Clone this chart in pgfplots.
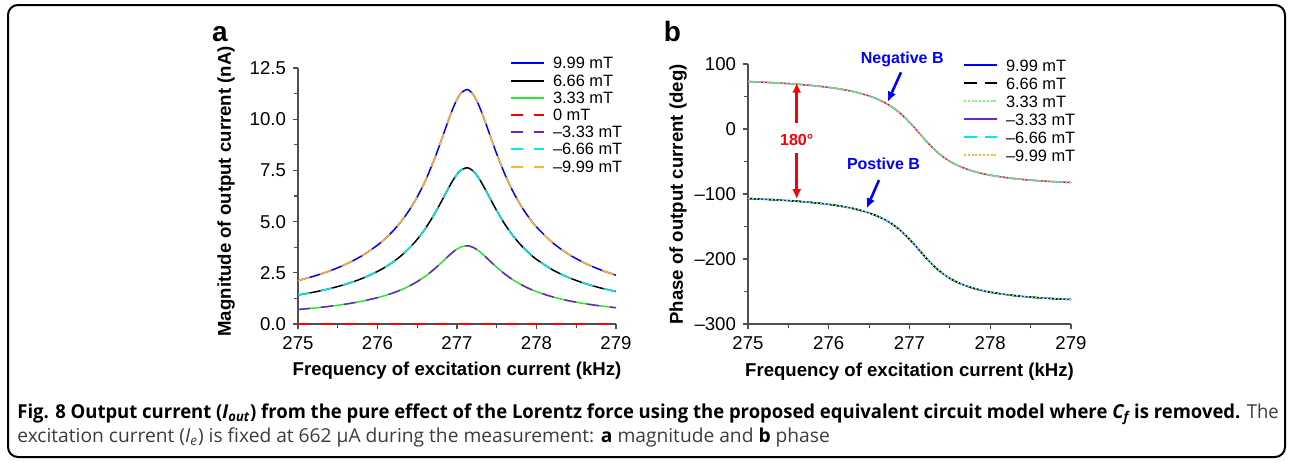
\documentclass[border=0pt]{standalone}
\usepackage{fontspec}
\setmainfont{Liberation Sans}
\newfontfamily\capfont{Open Sans}
\usepackage{graphicx}
\usepackage{pgfplots}
\pgfplotsset{compat=1.18}
\usepackage{pgfplotstable}
\usetikzlibrary{arrows.meta}

\definecolor{cblue}{RGB}{0,0,255}
\definecolor{cgreen}{RGB}{40,230,40}
\definecolor{cgreenl}{RGB}{110,255,110}
\definecolor{cred}{RGB}{255,0,0}
\definecolor{cpurple}{RGB}{120,30,210}
\definecolor{ccyan}{RGB}{0,235,235}
\definecolor{corange}{RGB}{255,180,40}
\definecolor{axgray}{RGB}{80,80,80}
\definecolor{capgray}{RGB}{60,60,60}

\pgfplotstableread{
f m999 m666 m333
275.0 2.123 1.415 0.708
275.2 2.335 1.556 0.779
275.4 2.594 1.728 0.865
275.6 2.914 1.942 0.972
275.8 3.321 2.213 1.108
276.0 3.851 2.566 1.285
276.1 4.180 2.786 1.395
276.2 4.565 3.042 1.523
276.3 5.020 3.345 1.675
276.4 5.561 3.705 1.855
276.5 6.207 4.136 2.071
276.6 6.981 4.652 2.329
276.7 7.897 5.262 2.634
276.75 8.405 5.601 2.804
276.8 8.941 5.958 2.983
276.85 9.490 6.324 3.166
276.9 10.033 6.686 3.347
276.95 10.538 7.022 3.516
277.0 10.967 7.308 3.659
277.05 11.279 7.516 3.763
277.12 11.450 7.630 3.820
277.15 11.418 7.609 3.809
277.2 11.228 7.482 3.746
277.25 10.889 7.256 3.633
277.3 10.441 6.958 3.484
277.35 9.926 6.614 3.312
277.4 9.380 6.251 3.129
277.45 8.832 5.886 2.947
277.5 8.301 5.532 2.770
277.6 7.330 4.885 2.446
277.7 6.500 4.332 2.169
277.8 5.805 3.869 1.937
277.9 5.225 3.482 1.743
278.0 4.738 3.157 1.581
278.2 3.977 2.650 1.327
278.4 3.415 2.276 1.139
278.6 2.987 1.991 0.997
278.8 2.652 1.767 0.885
279.0 2.383 1.588 0.795
}\magtab

\pgfplotstableread{
f m0
275.0 0
279.0 0
}\zerotab

\pgfplotstableread{
f neg pos
275.0 73.02 -106.98
275.2 71.93 -108.07
275.4 70.61 -109.39
275.6 68.96 -111.04
275.8 66.84 -113.16
276.0 64.05 -115.95
276.1 62.29 -117.71
276.2 60.20 -119.80
276.3 57.70 -122.30
276.4 54.65 -125.35
276.5 50.87 -129.13
276.6 46.13 -133.87
276.7 40.10 -139.90
276.75 36.47 -143.53
276.8 32.36 -147.64
276.85 27.72 -152.28
276.9 22.51 -157.49
276.95 16.73 -163.27
277.0 10.40 -169.60
277.05 3.63 -176.37
277.12 -6.30 -186.30
277.15 -10.59 -190.59
277.2 -17.61 -197.61
277.25 -24.30 -204.30
277.3 -30.53 -210.53
277.35 -36.20 -216.20
277.4 -41.29 -221.29
277.45 -45.82 -225.82
277.5 -49.83 -229.83
277.6 -56.30 -236.30
277.7 -61.30 -241.30
277.8 -65.30 -245.30
277.9 -68.50 -248.50
278.0 -71.00 -251.00
278.2 -74.80 -254.80
278.4 -77.60 -257.60
278.6 -79.60 -259.60
278.8 -81.10 -261.10
279.0 -82.30 -262.30
}\phasetab

\pgfplotsset{
  common/.style={
    scale only axis, clip=false,
    axis lines=left,
    axis line style={axgray, line width=0.6pt, -},
    tick align=outside,
    major tick length=2.5pt, minor tick length=2pt,
    tick style={axgray, line width=0.6pt},
    xmin=275, xmax=279,
    xtick={275,276,277,278,279},
    xticklabels={275,276,277,278,279},
    minor x tick num=1, minor y tick num=1,
    tick label style={font=\fontsize{9.3}{11}\selectfont},
    label style={font=\bfseries\fontsize{9.3}{11}\selectfont},
    legend cell align=left,
    legend style={draw=none, fill=none, inner sep=0pt, outer sep=0pt,
      column sep=3pt, row sep=0pt,
      font=\fontsize{8.2}{9}\selectfont,
      nodes={inner sep=1pt, text depth=0.5pt}},
    legend image code/.code={\draw[#1, line width=1pt] (0pt,0pt) -- (16.5pt,0pt);},
  },
  dsh/.style={dash pattern=on 6pt off 5.5pt},
  dshb/.style={dash pattern=on 6.3pt off 4pt},
  dtt/.style={dash pattern=on 1pt off 0.9pt},
}

\begin{document}
\begin{tikzpicture}
\useasboundingbox (0,0) rectangle (645pt,-231pt);
\draw[line width=1pt, rounded corners=5pt] (4pt,-2.5pt) rectangle (642.5pt,-228.5pt);

\node[font=\bfseries\fontsize{14}{16}\selectfont, anchor=base] at (110pt,-20.5pt) {a};
\node[font=\bfseries\fontsize{14}{16}\selectfont, anchor=base] at (336.25pt,-20.5pt) {b};

% ---------- caption ----------
\node[anchor=base west, inner sep=0pt, xscale=0.963, font=\capfont\fontsize{9.6}{12}\selectfont] at (8.5pt,-209.25pt)
  {\textbf{Fig. 8 Output current (\textit{I\textsubscript{out}}) from the pure effect of the Lorentz force using the proposed equivalent circuit model where \textit{C\textsubscript{f}} is removed.} \textcolor{capgray}{The}};
\node[anchor=base west, inner sep=0pt, xscale=1.0, text=capgray, font=\capfont\fontsize{9.6}{12}\selectfont] at (8.5pt,-221.25pt)
  {excitation current (\textit{I\textsubscript{e}}) is fixed at 662 µA during the measurement: \textcolor{black}{\textbf{a}} magnitude and \textcolor{black}{\textbf{b}} phase};

% ---------- panel a ----------
\begin{axis}[common,
  at={(149pt,-162pt)}, anchor=south west,
  width=159pt, height=128pt,
  ymin=0, ymax=12.5,
  ytick={0,2.5,5,7.5,10,12.5},
  yticklabels={0.0,2.5,5.0,7.5,10.0,12.5},
  xlabel={Frequency of excitation current (kHz)},
  ylabel={Magnitude of output current (nA)},
  xlabel style={at={(axis description cs:0.5,-0.203)}, anchor=base},
  ylabel style={at={(axis description cs:-0.2264,0.518)}, anchor=center},
  legend style={at={(axis description cs:0.6667,1.0518)}, anchor=north west,
    nodes={text height=6.1pt}},
]
\addplot[cblue, line width=0.75pt, smooth] table[x=f, y=m999] {\magtab};
\addlegendentry{9.99 mT}
\addplot[black, line width=0.75pt, smooth] table[x=f, y=m666] {\magtab};
\addlegendentry{6.66 mT}
\addplot[cgreen, line width=0.75pt, smooth] table[x=f, y=m333] {\magtab};
\addlegendentry{3.33 mT}
\addplot[cred, line width=0.9pt, dsh] table[x=f, y=m0] {\zerotab};
\addlegendentry{0 mT}
\addplot[cpurple, line width=0.75pt, dsh, smooth] table[x=f, y=m333] {\magtab};
\addlegendentry{–3.33 mT}
\addplot[ccyan, line width=0.75pt, dsh, smooth] table[x=f, y=m666] {\magtab};
\addlegendentry{–6.66 mT}
\addplot[corange, line width=0.75pt, dsh, smooth] table[x=f, y=m999] {\magtab};
\addlegendentry{–9.99 mT}
\end{axis}

% ---------- panel b ----------
\begin{axis}[common,
  at={(374pt,-162pt)}, anchor=south west,
  width=161.5pt, height=130pt,
  ymin=-300, ymax=100,
  ytick={-300,-200,-100,0,100},
  yticklabels={–300,–200,–100,0,100},
  xlabel={Frequency of excitation current (kHz)},
  ylabel={Phase of output current (deg)},
  xlabel style={at={(axis description cs:0.5,-0.2)}, anchor=base},
  ylabel style={at={(axis description cs:-0.2167,0.498)}, anchor=center},
  legend style={at={(axis description cs:0.6656,1.0308)}, anchor=north west,
    nodes={text height=6.5pt}},
]
\addplot[cblue, line width=0.75pt, smooth] table[x=f, y=pos] {\phasetab};
\addlegendentry{9.99 mT}
\addplot[black, line width=0.75pt, dshb, smooth] table[x=f, y=pos] {\phasetab};
\addlegendentry{6.66 mT}
\addplot[cgreenl, line width=0.75pt, dtt, smooth] table[x=f, y=pos] {\phasetab};
\addlegendentry{3.33 mT}
\addplot[cpurple, line width=0.75pt, smooth] table[x=f, y=neg] {\phasetab};
\addlegendentry{–3.33 mT}
\addplot[ccyan, line width=0.75pt, dshb, smooth] table[x=f, y=neg] {\phasetab};
\addlegendentry{–6.66 mT}
\addplot[corange, line width=0.75pt, dtt, smooth] table[x=f, y=neg] {\phasetab};
\addlegendentry{–9.99 mT}

\node[cblue, font=\bfseries\fontsize{8}{9}\selectfont, anchor=base] at (axis cs:276.91,101) {Negative B};
\draw[cblue, line width=1.3pt, -{Latex[length=5pt,width=4.5pt]}] (axis cs:276.895,87.2) -- (axis cs:276.73,42);
\node[cblue, font=\bfseries\fontsize{8}{9}\selectfont, anchor=base] at (axis cs:276.678,-62) {Postive B};
\draw[cblue, line width=1.3pt, -{Latex[length=5pt,width=4.5pt]}] (axis cs:276.622,-78.5) -- (axis cs:276.47,-122);
\draw[cred, line width=1.3pt, -{Latex[length=5pt,width=4.5pt]}] (axis cs:275.603,8.8) -- (axis cs:275.603,71.3);
\draw[cred, line width=1.3pt, -{Latex[length=5pt,width=4.5pt]}] (axis cs:275.603,-37.4) -- (axis cs:275.603,-108);
\node[cred, font=\bfseries\fontsize{8}{9}\selectfont, anchor=base] at (axis cs:275.603,-24.6) {180°};
\end{axis}
\end{tikzpicture}
\end{document}
